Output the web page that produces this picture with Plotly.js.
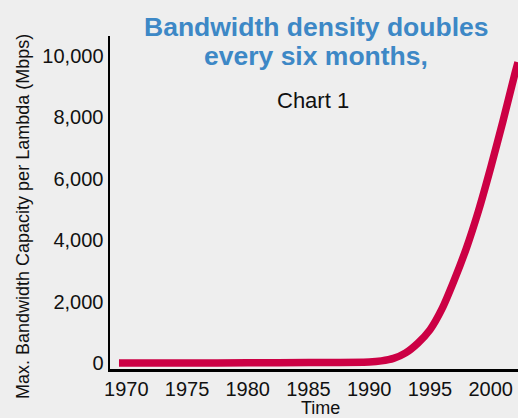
<!DOCTYPE html>
<html>
<head>
<meta charset="utf-8">
<script src="https://cdn.plot.ly/plotly-3.0.1.min.js"></script>
<style>html,body{margin:0;padding:0;background:#eeeeee;}#chart{width:518px;height:418px;}</style>
</head>
<body>
<div id="chart"></div>
<script>
// Data
var years = [1969.4, 1975, 1980, 1985, 1990, 1991, 1992, 1993, 1994, 1995, 1996, 1997, 1998, 1999, 2000, 2001, 2002, 2002.25];
var capacity = [0, 2, 5, 15, 35, 70, 150, 330, 645, 1080, 1770, 2700, 3740, 4960, 6360, 7860, 9430, 9800];
var xTicks = [1970, 1975, 1980, 1985, 1990, 1995, 2000];
var yTicks = [0, 2000, 4000, 6000, 8000, 10000];
var titleLine1 = "Bandwidth density doubles";
var titleLine2 = "every six months,";
var subTitle = "Chart 1";
var xTitle = "Time";
var yTitle = "Max. Bandwidth Capacity per Lambda (Mbps)";

var FONT = "Liberation Sans, Arial, sans-serif";

var trace = {
  x: years, y: capacity, type: "scatter", mode: "lines",
  line: {color: "#cc0044", width: 7.5, shape: "spline", smoothing: 0.7},
  hoverinfo: "skip"
};

var layout = {
  width: 518, height: 418,
  paper_bgcolor: "#eeeeee", plot_bgcolor: "#eeeeee",
  margin: {l: 110, r: 0, t: 36, b: 49, pad: 0},
  showlegend: false,
  font: {family: FONT, color: "#111111"},
  xaxis: {
    range: [1968.66, 2002.25], tickvals: xTicks, ticks: "", showgrid: false, zeroline: false,
    showline: true, linecolor: "#000000", linewidth: 2.5,
    tickfont: {size: 20, family: FONT, color: "#111111"}, fixedrange: true
  },
  yaxis: {
    range: [-195, 10651], tickvals: yTicks, tickformat: ",d", ticks: "", showgrid: false, zeroline: false,
    showline: true, linecolor: "#000000", linewidth: 2.5,
    tickfont: {size: 20, family: FONT, color: "#111111"}, fixedrange: true
  },
  annotations: [
    {text: titleLine1, xref: "paper", yref: "paper", x: 0.505, y: 1.027, xanchor: "center", yanchor: "middle",
     showarrow: false, font: {family: FONT, size: 26.5, color: "#3d88c6", weight: "bold"}},
    {text: titleLine2, xref: "paper", yref: "paper", x: 0.505, y: 0.941, xanchor: "center", yanchor: "middle",
     showarrow: false, font: {family: FONT, size: 26.5, color: "#3d88c6", weight: "bold"}},
    {text: subTitle, xref: "paper", yref: "paper", x: 0.4975, y: 0.806, xanchor: "center", yanchor: "middle",
     showarrow: false, font: {family: FONT, size: 22, color: "#111111"}},
    {text: xTitle, xref: "paper", yref: "paper", x: 0.516, y: -0.117, xanchor: "center", yanchor: "middle",
     showarrow: false, font: {family: FONT, size: 18, color: "#111111"}},
    {text: yTitle, xref: "paper", yref: "paper", x: -0.212, y: 0.458, xanchor: "center", yanchor: "middle",
     textangle: -90, showarrow: false, font: {family: FONT, size: 18, color: "#111111"}}
  ]
};

Plotly.newPlot("chart", [trace], layout, {displayModeBar: false, staticPlot: true});
</script>
</body>
</html>
